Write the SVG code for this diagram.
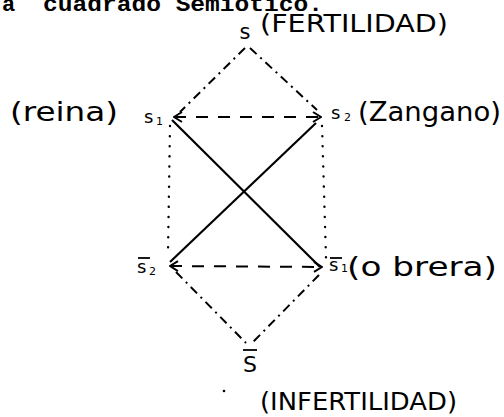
<svg xmlns="http://www.w3.org/2000/svg" width="504" height="417" viewBox="0 0 504 417">
<style>
.t{font-family:"DejaVu Sans","Liberation Sans",sans-serif;fill:#000}
.hd{font-family:"Liberation Mono","DejaVu Sans Mono",monospace;font-weight:bold;fill:#000}
.dd{stroke:#000;stroke-width:2;fill:none;stroke-dasharray:9 5 2 5}
.da{stroke:#000;stroke-width:2;fill:none;stroke-dasharray:12 10}
.dt{stroke:#000;stroke-width:2.4;fill:none;stroke-dasharray:0.1 10;stroke-linecap:round}
.so{stroke:#000;stroke-width:2.2;fill:none}
.ol{stroke:#000;stroke-width:1.8}
</style>
<defs>
<marker id="chev" viewBox="0 0 10 12" refX="9" refY="6" markerWidth="10" markerHeight="12" markerUnits="userSpaceOnUse" orient="auto-start-reverse">
<path d="M1,1 L9,6 L1,11" fill="none" stroke="#000" stroke-width="2"/>
</marker>
</defs>
<rect width="504" height="417" fill="#fff"/>
<text class="hd" x="2" y="11" font-size="22">a</text>
<text class="hd" x="43" y="11" font-size="22" textLength="280" lengthAdjust="spacingAndGlyphs">cuadrado Semiótico.</text>
<g id="connectors">
<path class="dd" d="M245,48 L180,112"/>
<path class="dd" d="M250,48 L317,110"/>
<path class="dd" d="M176,272 L246,343"/>
<path class="dd" d="M319,275 L252,343"/>
<path class="da" d="M174,117 L321,117" marker-start="url(#chev)" marker-end="url(#chev)"/>
<path class="da" d="M170,266 L322,267" marker-start="url(#chev)" marker-end="url(#chev)"/>
<path class="dt" d="M170,126 L168,252"/>
<path class="dt" d="M322,126 L326,258"/>
<path class="so" d="M172,120 L320,267"/>
<path class="so" d="M316,123 L170,262"/>
</g>
<g id="node-s">
<text class="t" x="245" y="39" font-size="21" text-anchor="middle">s</text>
<text class="t" x="260" y="32" font-size="24" textLength="188" lengthAdjust="spacingAndGlyphs">(FERTILIDAD)</text>
</g>
<g id="node-s1">
<text class="t" x="10" y="121" font-size="26" textLength="108" lengthAdjust="spacingAndGlyphs">(reina)</text>
<text class="t" x="144" y="123" font-size="18">s</text>
<text class="t" x="156" y="125" font-size="11">1</text>
</g>
<g id="node-s2">
<text class="t" x="331" y="119" font-size="18">s</text>
<text class="t" x="344" y="121" font-size="11">2</text>
<text class="t" x="358" y="121" font-size="26" textLength="143" lengthAdjust="spacingAndGlyphs">(Zangano)</text>
</g>
<g id="node-not-s2">
<line class="ol" x1="138" y1="258" x2="150" y2="258"/>
<text class="t" x="137" y="273" font-size="18">s</text>
<text class="t" x="149" y="275" font-size="11">2</text>
</g>
<g id="node-not-s1">
<line class="ol" x1="330" y1="258" x2="342" y2="258"/>
<text class="t" x="329" y="271" font-size="18">s</text>
<text class="t" x="341" y="272" font-size="11">1</text>
<text class="t" x="347" y="276" font-size="26" textLength="150" lengthAdjust="spacingAndGlyphs">(o brera)</text>
</g>
<g id="node-not-s">
<line class="ol" x1="243" y1="350" x2="257" y2="350"/>
<text class="t" x="250" y="372" font-size="22" text-anchor="middle">S</text>
<circle cx="224" cy="391" r="1.3" fill="#000"/>
<text class="t" x="260" y="410" font-size="24" textLength="197" lengthAdjust="spacingAndGlyphs">(INFERTILIDAD)</text>
</g>
</svg>
